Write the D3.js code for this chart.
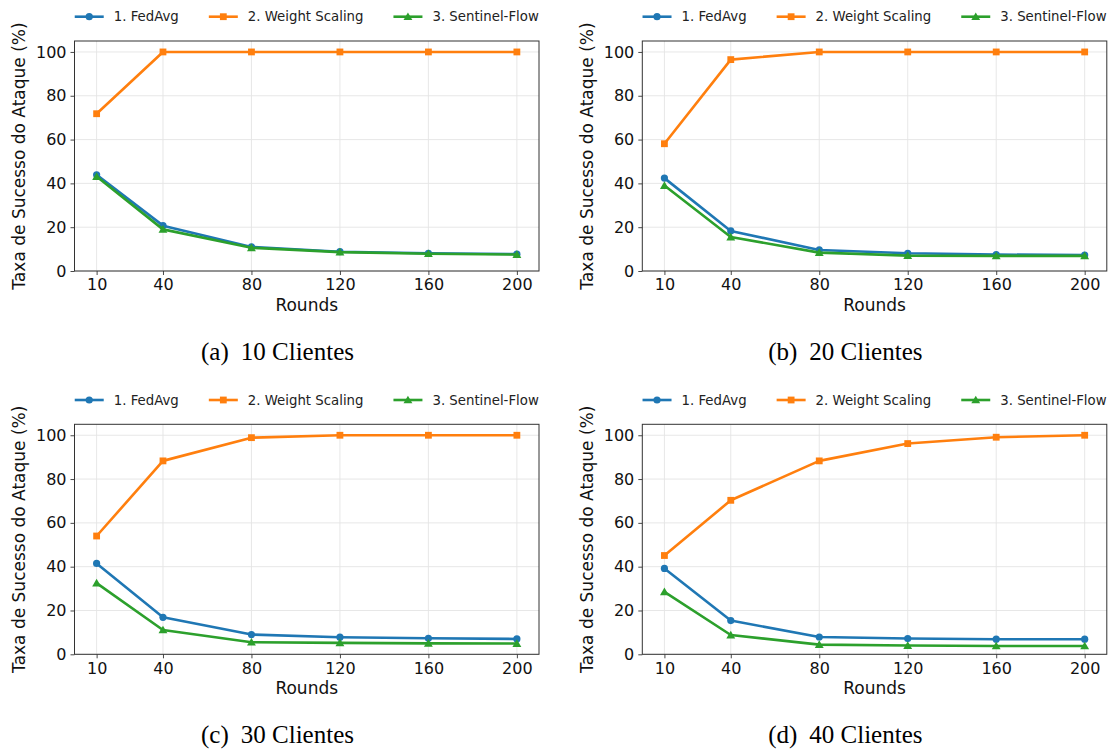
<!DOCTYPE html>
<html>
<head>
<meta charset="utf-8">
<script src="https://cdn.jsdelivr.net/npm/d3@7"></script>
<style>
  body { margin: 0; background: #fff; }
  svg { display: block; }
</style>
</head>
<body>
<script>
const width = 1112;
const height = 749;

const rounds = [10, 40, 80, 120, 160, 200];
const yTicks = [0, 20, 40, 60, 80, 100];
const seriesNames = ["1. FedAvg", "2. Weight Scaling", "3. Sentinel-Flow"];
const seriesColors = ["#1f77b4", "#ff7f0e", "#2ca02c"];
const captionTags = ["(a)", "(b)", "(c)", "(d)"];
const captionTexts = ["10 Clientes", "20 Clientes", "30 Clientes", "40 Clientes"];

// attack success rate (%), one array per series and client count
const fedAvg10 = [43.9, 20.7, 11.0, 8.8, 8.1, 7.7];
const weight10 = [71.8, 100, 100, 100, 100, 100];
const sentinel10 = [43.1, 19.0, 10.6, 8.6, 7.9, 7.5];

const fedAvg20 = [42.4, 18.3, 9.6, 8.1, 7.5, 7.3];
const weight20 = [58.1, 96.5, 100, 100, 100, 100];
const sentinel20 = [39.0, 15.5, 8.4, 7.0, 6.9, 6.9];

const fedAvg30 = [41.5, 16.9, 9.0, 7.8, 7.3, 7.0];
const weight30 = [54.0, 88.3, 98.9, 100, 100, 100];
const sentinel30 = [32.5, 11.1, 5.5, 5.2, 5.0, 4.9];

const fedAvg40 = [39.2, 15.4, 7.9, 7.2, 6.9, 6.9];
const weight40 = [45.1, 70.3, 88.3, 96.2, 99.1, 100];
const sentinel40 = [28.5, 8.8, 4.4, 4.0, 3.8, 3.8];

const panels = [
    [fedAvg10, weight10, sentinel10],
    [fedAvg20, weight20, sentinel20],
    [fedAvg30, weight30, sentinel30],
    [fedAvg40, weight40, sentinel40]
];

// plot box of the first panel, the others are shifted copies
const plotLeft = 74.5;
const plotRight = 539;
const plotTop = 41;
const plotBottom = 271;
const panelDx = 567.8;
const panelDy = 383.3;

const svg = d3.select("body")
    .append("svg")
    .attr("width", width)
    .attr("height", height);

const x = d3.scaleLinear().domain([0, 210]).range([0, plotRight - plotLeft]);
const y = d3.scaleLinear().domain([0, 105]).range([plotBottom - plotTop, 0]);

const drawMarker = (g, i, cx, cy, color) => {
    if (i === 0) {
        g.append("circle")
            .attr("cx", cx).attr("cy", cy).attr("r", 3.6)
            .attr("fill", color);
    } else if (i === 1) {
        g.append("rect")
            .attr("x", cx - 3.4).attr("y", cy - 3.4)
            .attr("width", 6.8).attr("height", 6.8)
            .attr("fill", color);
    } else {
        g.append("path")
            .attr("d", d3.symbol().type(d3.symbolTriangle).size(34)())
            .attr("transform", `translate(${cx},${cy + 0.8})`)
            .attr("fill", color);
    }
};

const drawPanel = (p) => {
    let ox = (p % 2) * panelDx;
    let oy = Math.floor(p / 2) * panelDy;
    let plotW = plotRight - plotLeft;
    let plotH = plotBottom - plotTop;

    let g = svg.append("g")
        .attr("transform", `translate(${ox + plotLeft},${oy + plotTop})`);

    // grid
    g.append("g").selectAll("line").data(rounds).join("line")
        .attr("x1", d => x(d)).attr("x2", d => x(d))
        .attr("y1", 0).attr("y2", plotH)
        .attr("stroke", "#e4e4e4").attr("stroke-width", 0.9);
    g.append("g").selectAll("line").data(yTicks).join("line")
        .attr("x1", 0).attr("x2", plotW)
        .attr("y1", d => y(d)).attr("y2", d => y(d))
        .attr("stroke", "#e4e4e4").attr("stroke-width", 0.9);

    // axes
    let xAxis = g.append("g")
        .attr("transform", `translate(0,${plotH})`)
        .call(d3.axisBottom(x).tickValues(rounds).tickSize(4).tickPadding(4).tickSizeOuter(0));
    let yAxis = g.append("g")
        .call(d3.axisLeft(y).tickValues(yTicks).tickSize(4).tickPadding(4).tickSizeOuter(0));
    [xAxis, yAxis].forEach(a => {
        a.select(".domain").remove();
        a.selectAll(".tick line").attr("stroke", "#333").attr("stroke-width", 0.9);
        a.selectAll(".tick text")
            .attr("font-family", "DejaVu Sans")
            .attr("font-size", 16)
            .attr("fill", "#111");
    });

    // frame
    g.append("rect")
        .attr("width", plotW).attr("height", plotH)
        .attr("fill", "none")
        .attr("stroke", "#333").attr("stroke-width", 1);

    // series
    panels[p].forEach((values, i) => {
        let line = d3.line()
            .x((d, k) => x(rounds[k]))
            .y(d => y(d));
        g.append("path")
            .datum(values)
            .attr("d", line)
            .attr("fill", "none")
            .attr("stroke", seriesColors[i])
            .attr("stroke-width", 2.6)
            .attr("stroke-linejoin", "round")
            .attr("stroke-linecap", "round");
        values.forEach((v, k) => drawMarker(g, i, x(rounds[k]), y(v), seriesColors[i]));
    });

    // axis titles
    g.append("text")
        .attr("x", plotW / 2).attr("y", plotH + 40)
        .attr("text-anchor", "middle")
        .attr("font-family", "DejaVu Sans").attr("font-size", 17)
        .attr("fill", "#111")
        .text("Rounds");
    g.append("text")
        .attr("transform", `translate(${25 - plotLeft},${plotH / 2}) rotate(-90)`)
        .attr("text-anchor", "middle")
        .attr("font-family", "DejaVu Sans").attr("font-size", 17)
        .attr("fill", "#111")
        .text("Taxa de Sucesso do Ataque (%)");

    // legend, centred above the plot
    let leg = svg.append("g");
    let items = [];
    seriesNames.forEach((name, i) => {
        let it = leg.append("g");
        it.append("line")
            .attr("x1", 0).attr("x2", 29).attr("y1", 0).attr("y2", 0)
            .attr("stroke", seriesColors[i]).attr("stroke-width", 2.6);
        drawMarker(it, i, 14.5, 0, seriesColors[i]);
        let t = it.append("text")
            .attr("x", 39).attr("y", 4.7)
            .attr("font-family", "DejaVu Sans").attr("font-size", 13.3)
            .attr("fill", "#222")
            .text(name);
        items.push({ g: it, w: 39 + t.node().getComputedTextLength() });
    });
    let gap = 30;
    let total = d3.sum(items, d => d.w) + gap * (items.length - 1);
    let cx = ox + plotLeft + plotW / 2;
    let lx = cx - total / 2;
    items.forEach(d => {
        d.g.attr("transform", `translate(${lx},${oy + 16.7})`);
        lx += d.w + gap;
    });

    // caption
    let cap = svg.append("text")
        .attr("x", ox + 277.5).attr("y", oy + 359.5)
        .attr("text-anchor", "middle")
        .attr("font-family", "Liberation Serif").attr("font-size", 25)
        .attr("fill", "#000");
    cap.append("tspan").text(captionTags[p]);
    cap.append("tspan").attr("dx", 12).text(captionTexts[p]);
};

const main = () => {
    for (let p = 0; p < panels.length; p++) {
        drawPanel(p);
    }
};

window.addEventListener("load", main);
</script>
</body>
</html>
